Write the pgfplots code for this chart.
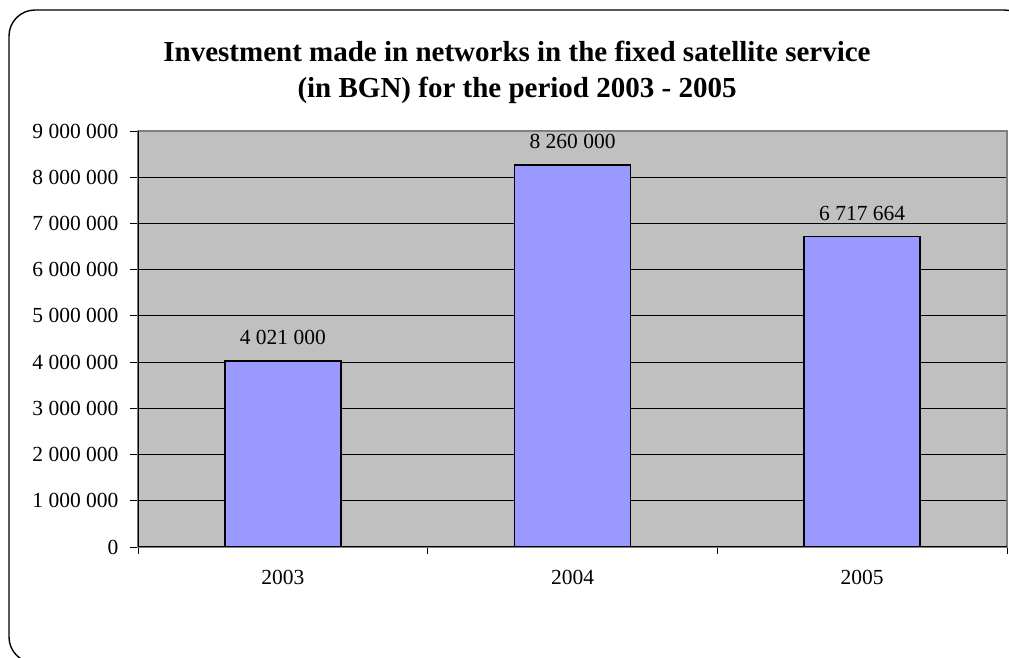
\documentclass[border=0pt]{standalone}
\usepackage{pgfplots}
\usepackage{pgfplotstable}
\pgfplotsset{compat=1.18}
\usepackage{fontspec}
\setmainfont{Liberation Serif}

\definecolor{plotbg}{HTML}{C0C0C0}
\definecolor{barfill}{HTML}{9999FF}
\definecolor{boxgray}{HTML}{808080}

% investment per year and the label printed above each bar
\pgfplotstableread[col sep=comma]{
x,y,lab
0,4021000,4 021 000
1,8260000,8 260 000
2,6717664,6 717 664
}\investdata

\begin{document}
\begin{tikzpicture}[x=1pt,y=1pt]
\useasboundingbox (0,0) rectangle (1009,658);
\fill[white] (0,0) rectangle (1009,658);
\draw[line width=1.4pt, rounded corners=26pt] (9,-5) rectangle (1030,648);

\node[font=\bfseries\fontsize{29}{36}\selectfont, anchor=base] at (517,596)
  {Investment made in networks in the fixed satellite service};
\node[font=\bfseries\fontsize{29}{36}\selectfont, anchor=base] at (517,560)
  {(in BGN) for the period 2003 - 2005};

\begin{axis}[
  at={(138pt,111pt)}, anchor=south west,
  scale only axis, width=869pt, height=416pt,
  xmin=-0.5, xmax=2.5,
  ymin=0, ymax=9000000,
  axis background/.style={fill=plotbg},
  axis line style={draw=boxgray, line width=1.2pt},
  ytick={0,1000000,2000000,3000000,4000000,5000000,6000000,7000000,8000000,9000000},
  yticklabels={0,1 000 000,2 000 000,3 000 000,4 000 000,5 000 000,6 000 000,7 000 000,8 000 000,9 000 000},
  scaled y ticks=false,
  xtick={0,1,2},
  xticklabels={2003,2004,2005},
  minor xtick={-0.5,0.5,1.5,2.5},
  major x tick style={draw=none},
  tick align=outside, tick pos=left,
  major tick length=8pt, minor tick length=7pt,
  tick style={black, line width=0.8pt},
  ymajorgrids, grid style={black, line width=0.8pt},
  tick label style={font=\fontsize{21.5}{25}\selectfont},
  x tick label style={yshift=-12pt},
  y tick label style={xshift=-8pt},
  ybar, bar width=116pt,
  nodes near coords,
  point meta=explicit symbolic,
  nodes near coords style={font=\fontsize{21.5}{25}\selectfont, yshift=12pt},
]
\addplot[fill=barfill, draw=black, line width=1.4pt]
  table[x=x, y=y, meta=lab] {\investdata};
\draw[black, line width=1.2pt] (rel axis cs:0,1) -- (rel axis cs:0,0) -- (rel axis cs:1,0);
\end{axis}
\end{tikzpicture}
\end{document}
